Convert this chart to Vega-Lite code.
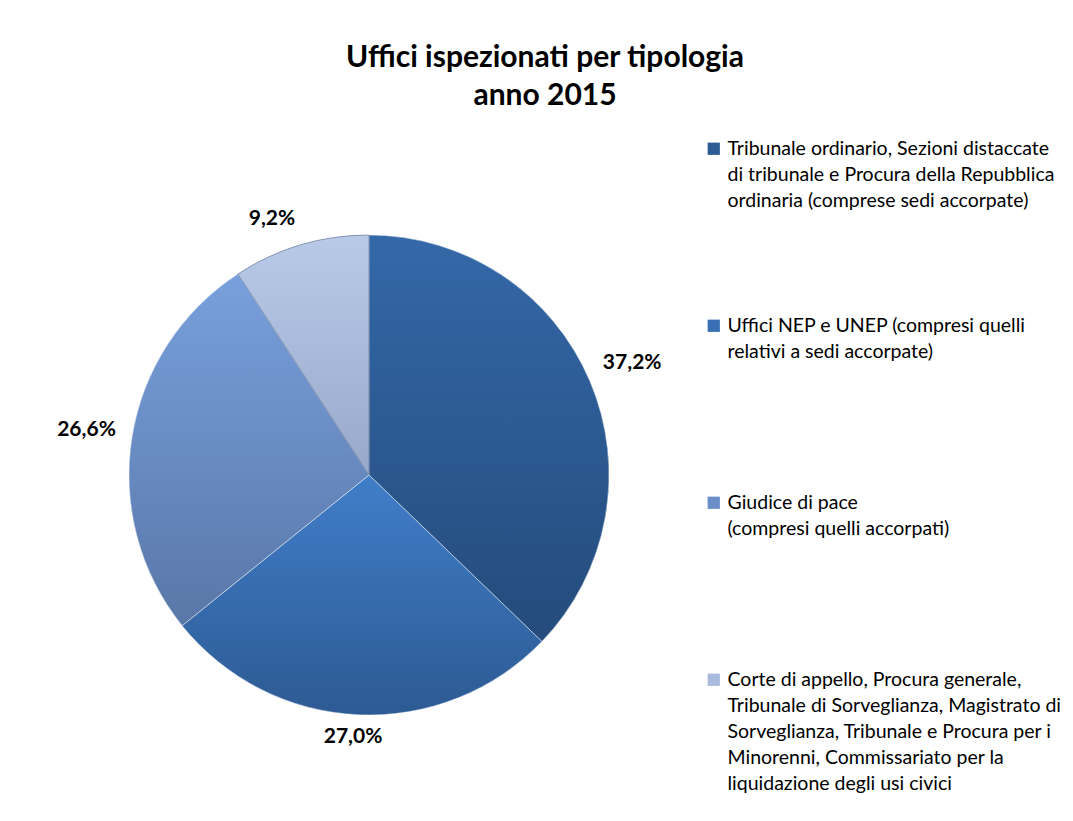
{
  "$schema": "https://vega.github.io/schema/vega-lite/v6.json",
  "autosize": {"type": "none"},
  "width": 480,
  "height": 480,
  "padding": {"left": 129, "top": 235, "right": 464, "bottom": 106},
  "background": "white",
  "config": {
    "view": {"stroke": null},
    "locale": {"number": {"decimal": ",", "thousands": ".", "grouping": [3], "currency": ["€", ""]}}
  },
  "title": {
    "text": ["Uffici ispezionati per tipologia", "anno 2015"],
    "font": "Lato",
    "fontSize": 30,
    "fontWeight": "bold",
    "color": "#000000",
    "anchor": "middle",
    "frame": "group",
    "dx": 176,
    "offset": 28,
    "lineHeight": 38
  },
  "data": {
    "values": [
      {"tipologia": "Tribunale ordinario, Sezioni distaccate\ndi tribunale e Procura della Repubblica\nordinaria (comprese sedi accorpate)", "quota": 0.372, "ordine": 1},
      {"tipologia": "Uffici NEP e UNEP (compresi quelli\nrelativi a sedi accorpate)", "quota": 0.270, "ordine": 2},
      {"tipologia": "Giudice di pace\n(compresi quelli accorpati)", "quota": 0.266, "ordine": 3},
      {"tipologia": "Corte di appello, Procura generale,\nTribunale di Sorveglianza, Magistrato di\nSorveglianza, Tribunale e Procura per i\nMinorenni, Commissariato per la\nliquidazione degli usi civici", "quota": 0.092, "ordine": 4}
    ]
  },
  "layer": [
    {
      "mark": {"type": "arc", "outerRadius": 240},
      "encoding": {
        "theta": {"field": "quota", "type": "quantitative", "stack": true, "scale": {"domain": [0, 1]}},
        "order": {"field": "ordine", "type": "quantitative"},
        "color": {
          "field": "tipologia",
          "type": "nominal",
          "sort": null,
          "scale": {"range": ["#2c5b96", "#386fb5", "#6a8ec8", "#a8badd"]},
          "legend": {
            "orient": "none",
            "legendX": 575,
            "legendY": -96,
            "title": null,
            "symbolType": "square",
            "symbolSize": 150,
            "symbolStrokeWidth": 0,
            "labelFont": "Lato",
            "labelFontSize": 19.5,
            "labelColor": "#000000",
            "labelLimit": 500,
            "labelOffset": 4,
            "gridAlign": "all",
            "rowPadding": 52,
            "labelExpr": "split(datum.label, '\\n')",
            "encode": {"labels": {"update": {"lineHeight": {"value": 26}}}}
          }
        }
      }
    },
    {
      "transform": [
        {"stack": "quota", "groupby": [], "sort": [{"field": "ordine", "order": "ascending"}], "as": ["q0", "q1"]},
        {"filter": "datum.ordine == 1"}
      ],
      "mark": {
        "type": "arc", "outerRadius": 240, "stroke": "#ffffff", "strokeWidth": 1, "strokeOpacity": 0.5,
        "fill": {"gradient": "linear", "x1": 0, "y1": 0, "x2": 0, "y2": 1, "stops": [{"offset": 0, "color": "#3468a8"}, {"offset": 1, "color": "#244b7b"}]}
      },
      "encoding": {
        "theta": {"field": "q0", "type": "quantitative", "scale": {"domain": [0, 1]}},
        "theta2": {"field": "q1"}
      }
    },
    {
      "transform": [
        {"stack": "quota", "groupby": [], "sort": [{"field": "ordine", "order": "ascending"}], "as": ["q0", "q1"]},
        {"filter": "datum.ordine == 2"}
      ],
      "mark": {
        "type": "arc", "outerRadius": 240, "stroke": "#ffffff", "strokeWidth": 1, "strokeOpacity": 0.5,
        "fill": {"gradient": "linear", "x1": 0, "y1": 0, "x2": 0, "y2": 1, "stops": [{"offset": 0, "color": "#407ec9"}, {"offset": 1, "color": "#2d5a93"}]}
      },
      "encoding": {
        "theta": {"field": "q0", "type": "quantitative", "scale": {"domain": [0, 1]}},
        "theta2": {"field": "q1"}
      }
    },
    {
      "transform": [
        {"stack": "quota", "groupby": [], "sort": [{"field": "ordine", "order": "ascending"}], "as": ["q0", "q1"]},
        {"filter": "datum.ordine == 3"}
      ],
      "mark": {
        "type": "arc", "outerRadius": 240, "stroke": "#ffffff", "strokeWidth": 1, "strokeOpacity": 0.5,
        "fill": {"gradient": "linear", "x1": 0, "y1": 0, "x2": 0, "y2": 1, "stops": [{"offset": 0, "color": "#78a0dc"}, {"offset": 1, "color": "#5977a8"}]}
      },
      "encoding": {
        "theta": {"field": "q0", "type": "quantitative", "scale": {"domain": [0, 1]}},
        "theta2": {"field": "q1"}
      }
    },
    {
      "transform": [
        {"stack": "quota", "groupby": [], "sort": [{"field": "ordine", "order": "ascending"}], "as": ["q0", "q1"]},
        {"filter": "datum.ordine == 4"}
      ],
      "mark": {
        "type": "arc", "outerRadius": 240, "stroke": "#5f6f8f", "strokeWidth": 1, "strokeOpacity": 0.6,
        "fill": {"gradient": "linear", "x1": 0, "y1": 0, "x2": 0, "y2": 1, "stops": [{"offset": 0, "color": "#b9cae9"}, {"offset": 1, "color": "#97a8c9"}]}
      },
      "encoding": {
        "theta": {"field": "q0", "type": "quantitative", "scale": {"domain": [0, 1]}},
        "theta2": {"field": "q1"}
      }
    },
    {
      "mark": {"type": "text", "radius": 286, "font": "Lato", "fontSize": 21, "fontWeight": "bold", "color": "#000000"},
      "encoding": {
        "theta": {"field": "quota", "type": "quantitative", "stack": true, "scale": {"domain": [0, 1]}},
        "order": {"field": "ordine", "type": "quantitative"},
        "text": {"condition": {"test": "datum.ordine == 1 || datum.ordine == 3", "field": "quota", "type": "quantitative", "format": ".1%"}, "value": ""}
      }
    },
    {
      "mark": {"type": "text", "radius": 262, "thetaOffset": 0.017, "font": "Lato", "fontSize": 21, "fontWeight": "bold", "color": "#000000"},
      "encoding": {
        "theta": {"field": "quota", "type": "quantitative", "stack": true, "scale": {"domain": [0, 1]}},
        "order": {"field": "ordine", "type": "quantitative"},
        "text": {"condition": {"test": "datum.ordine == 2", "field": "quota", "type": "quantitative", "format": ".1%"}, "value": ""}
      }
    },
    {
      "mark": {"type": "text", "radius": 274, "thetaOffset": -0.073, "font": "Lato", "fontSize": 21, "fontWeight": "bold", "color": "#000000"},
      "encoding": {
        "theta": {"field": "quota", "type": "quantitative", "stack": true, "scale": {"domain": [0, 1]}},
        "order": {"field": "ordine", "type": "quantitative"},
        "text": {"condition": {"test": "datum.ordine == 4", "field": "quota", "type": "quantitative", "format": ".1%"}, "value": ""}
      }
    }
  ]
}
